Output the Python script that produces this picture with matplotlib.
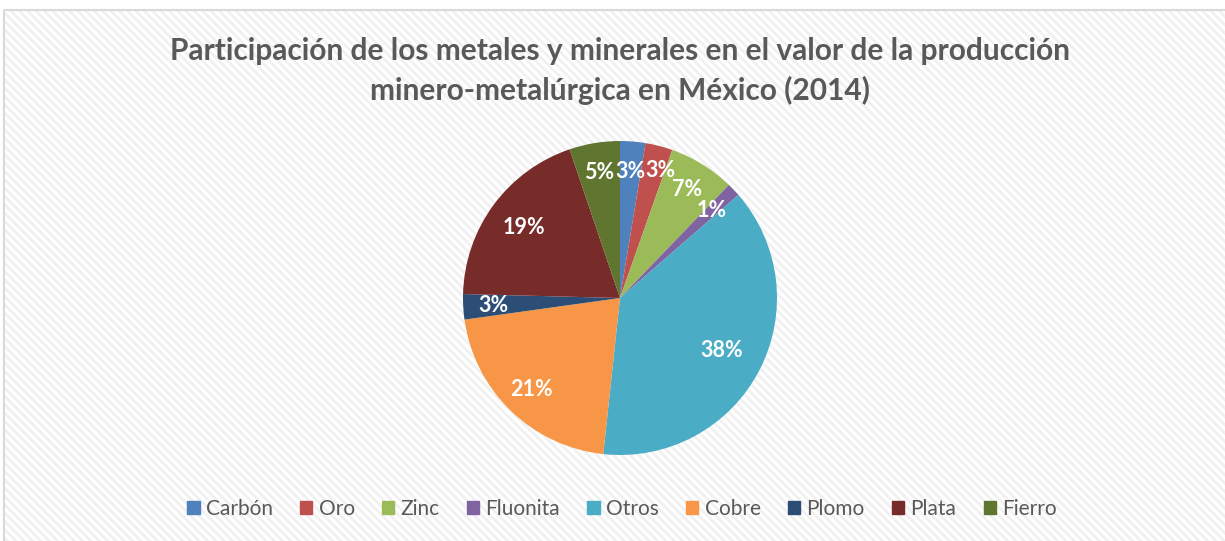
import matplotlib
matplotlib.use('Agg')
import matplotlib.pyplot as plt
import matplotlib.patches as mpatches

# data (percent share, 2014)
categories = ['Carbón', 'Oro', 'Zinc', 'Fluonita', 'Otros', 'Cobre', 'Plomo', 'Plata', 'Fierro']
shares = [2.6, 2.8, 6.8, 1.4, 38.1, 21.1, 2.6, 19.4, 5.2]
colors = ['#4F81BD', '#C0504D', '#9BBB59', '#8064A2', '#4BACC6',
          '#F79646', '#2C4D75', '#772C2A', '#5F7530']

title = 'Participación de los metales y minerales en el valor de la producción\nminero-metalúrgica en México (2014)'

plt.rcParams['font.family'] = ['Lato', 'DejaVu Sans']
plt.rcParams['hatch.linewidth'] = 2.0

W, H = 1225, 541
fig = plt.figure(figsize=(W / 100, H / 100), dpi=100)
fig.patch.set_facecolor('white')

# hatched chart area with light border, in a background axes
bg_ax = fig.add_axes([0, 0, 1, 1], zorder=-5)
bg_ax.set_xlim(0, W)
bg_ax.set_ylim(H, 0)
bg_ax.axis('off')
bg_ax.add_patch(mpatches.Rectangle((4, 9.5), W + 20, H + 20, facecolor='white',
                                   edgecolor='#f1f1f1', hatch='\\\\\\\\', linewidth=0))
bg_ax.add_patch(mpatches.Rectangle((4, 9.5), W + 20, H + 20, facecolor='none',
                                   edgecolor='#d9d9d9', linewidth=1.5))

fig.text(620 / W, 1 - 71 / H, title, ha='center', va='center', fontsize=21.5,
         fontweight='bold', color='#595959', linespacing=1.42)

# pie axes: center (620, 298), radius 157 px
r = 157
ax = fig.add_axes([(620 - r) / W, (H - 298 - r) / H, 2 * r / W, 2 * r / H])
wedges, texts, autotexts = ax.pie(shares, colors=colors, startangle=90, counterclock=False,
                                  autopct=lambda p: f'{p:.0f}%', pctdistance=0.81,
                                  wedgeprops=dict(linewidth=0),
                                  textprops=dict(color='white', fontsize=15.5, fontweight='bold'),
                                  radius=1.0)
ax.set_xlim(-1, 1)
ax.set_ylim(-1, 1)
ax.set_aspect('equal')
ax.axis('off')

# label nudges to match the original placement
scale = {'Otros': 0.9, 'Plata': 0.94}
for name, t in zip(categories, autotexts):
    x, y = t.get_position()
    f = scale.get(name, 1.0)
    t.set_position((x * f, y * f))
autotexts[1].set_position((0.26, 0.81))

handles = [mpatches.Patch(color=c, label=n) for c, n in zip(colors, categories)]
fig.legend(handles=handles, loc='center', bbox_to_anchor=(622 / W, 32 / H), ncol=9,
           frameon=False, fontsize=15, handlelength=0.6, handleheight=0.6,
           handletextpad=0.3, columnspacing=1.3, labelcolor='#595959')

plt.savefig('out.png', dpi=100)
